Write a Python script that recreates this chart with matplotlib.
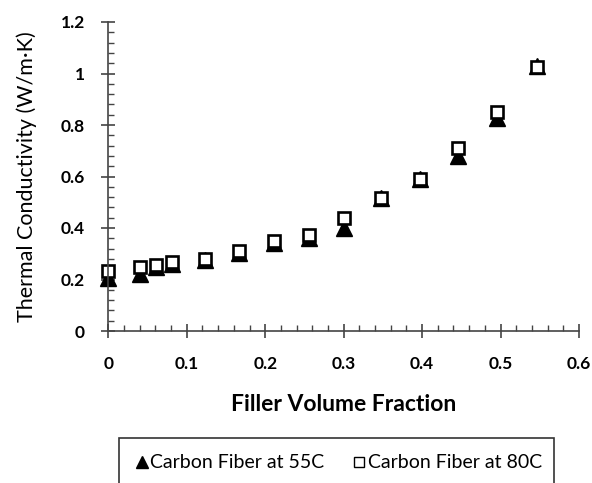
import matplotlib
matplotlib.use("Agg")
import matplotlib.pyplot as plt
from matplotlib.patches import Rectangle
from matplotlib.lines import Line2D
from matplotlib.ticker import MultipleLocator

plt.rcParams['font.family'] = ['Lato', 'DejaVu Sans']

x_vals = [0.0, 0.04, 0.061, 0.081, 0.123, 0.167, 0.211, 0.256, 0.301, 0.348, 0.397, 0.446, 0.496, 0.546]
k_55c = [0.206, 0.223, 0.249, 0.262, 0.274, 0.304, 0.341, 0.361, 0.40, 0.517, 0.59, 0.68, 0.829, 1.028]
k_80c = [0.232, 0.249, 0.258, 0.268, 0.28, 0.311, 0.349, 0.374, 0.438, 0.517, 0.59, 0.71, 0.852, 1.025]

x_ticks = [0, 0.1, 0.2, 0.3, 0.4, 0.5, 0.6]
x_tick_labels = ['0', '0.1', '0.2', '0.3', '0.4', '0.5', '0.6']
y_ticks = [0, 0.2, 0.4, 0.6, 0.8, 1.0, 1.2]
y_tick_labels = ['0', '0.2', '0.4', '0.6', '0.8', '1', '1.2']

W, H = 592, 483
fig = plt.figure(figsize=(W / 100, H / 100), dpi=100)
ax = fig.add_axes([108.3 / W, 1 - 331 / H, (579 - 108.3) / W, (331 - 22) / H])

ax.plot(x_vals, k_55c, linestyle='none', marker='^', markersize=11.5,
        markerfacecolor='black', markeredgecolor='black', label='Carbon Fiber at 55C', clip_on=False)
ax.plot(x_vals, k_80c, linestyle='none', marker='s', markersize=8,
        markerfacecolor='white', markeredgecolor='black', markeredgewidth=1.9,
        label='Carbon Fiber at 80C', clip_on=False)

ax.set_xlim(0, 0.6)
ax.set_ylim(0, 1.2)
ax.set_xticks(x_ticks)
ax.set_xticklabels(x_tick_labels)
ax.set_yticks(y_ticks)
ax.set_yticklabels(y_tick_labels)
ax.xaxis.set_minor_locator(MultipleLocator(0.02))
ax.yaxis.set_minor_locator(MultipleLocator(0.04))

for s in ['top', 'right']:
    ax.spines[s].set_visible(False)
for s in ['left', 'bottom']:
    ax.spines[s].set_color('#444444')
    ax.spines[s].set_linewidth(1.2)

ax.tick_params(which='major', direction='inout', length=10, width=1.2, color='#444444',
               labelsize=12.5)
ax.tick_params(which='minor', direction='in', length=4.5, width=1.0, color='#444444')
ax.tick_params(axis='x', which='major', pad=13)
ax.tick_params(axis='y', which='major', pad=12)
for lab in ax.get_xticklabels() + ax.get_yticklabels():
    lab.set_fontweight('bold')

ax.set_xlabel('Filler Volume Fraction', fontsize=16.5, fontweight='bold', labelpad=16)
ax.set_ylabel('Thermal Conductivity (W/m·K)', fontsize=15.5, labelpad=17)

# legend box (extends beyond the bottom edge)
rect = Rectangle((119 / W, 1 - 500 / H), (554 - 119) / W, (500 - 437.7) / H,
                 transform=fig.transFigure, facecolor='white', edgecolor='#333333',
                 linewidth=1.2, clip_on=False)
fig.patches.append(rect)

handles = [
    Line2D([], [], linestyle='none', marker='^', markersize=8, markerfacecolor='black',
           markeredgecolor='black'),
    Line2D([], [], linestyle='none', marker='s', markersize=6.5, markerfacecolor='white',
           markeredgecolor='black', markeredgewidth=1.0),
]
fig.legend(handles, ['Carbon Fiber at 55C', 'Carbon Fiber at 80C'], loc='center',
           bbox_to_anchor=(339 / W, 1 - 463 / H), ncol=2, frameon=False,
           fontsize=14, handlelength=0.6, handletextpad=0.15, columnspacing=1.5)

fig.savefig('out.png', dpi=100)
